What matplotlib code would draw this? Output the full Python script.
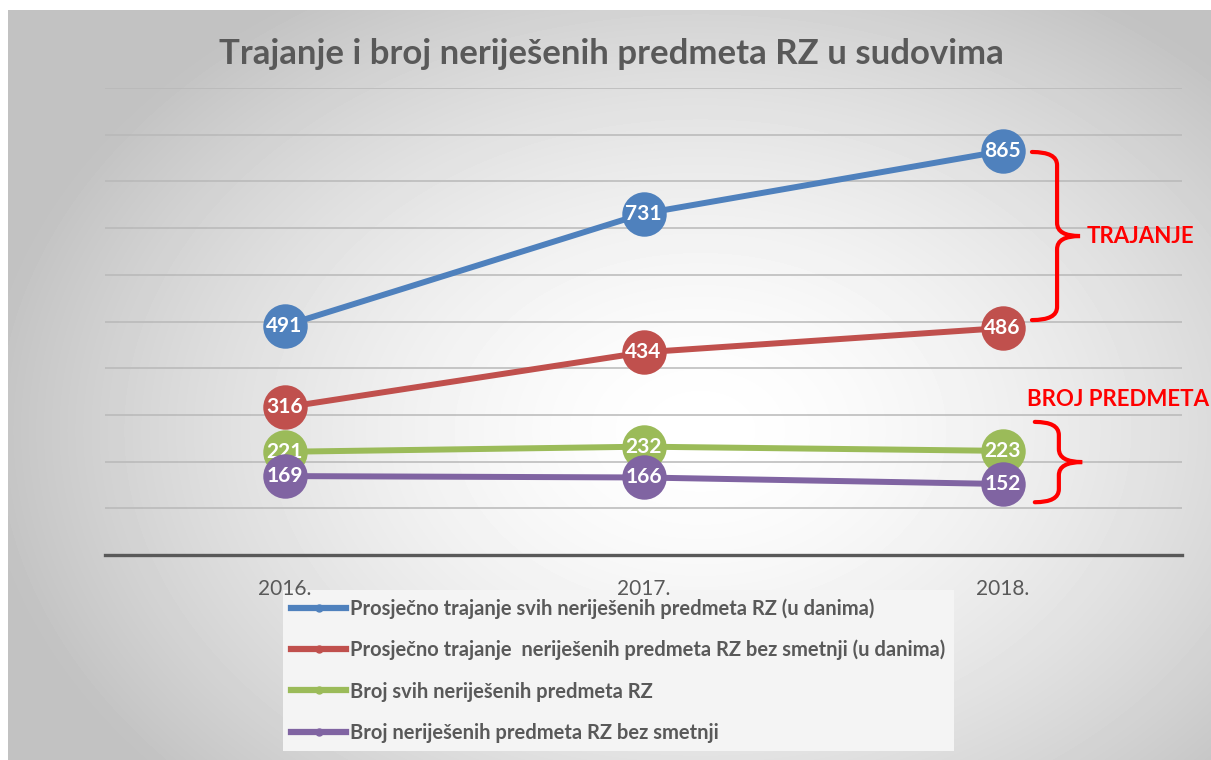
import matplotlib
matplotlib.use("Agg")
import matplotlib.pyplot as plt
import numpy as np
from matplotlib.lines import Line2D
from matplotlib.path import Path
from matplotlib.patches import PathPatch

plt.rcParams["font.family"] = ["Lato", "DejaVu Sans"]

# Data
years = ["2016.", "2017.", "2018."]
avg_all = [491, 731, 865]
avg_clean = [316, 434, 486]
count_all = [221, 232, 223]
count_clean = [169, 166, 152]

series_labels = [
    "Prosječno trajanje svih neriješenih predmeta RZ (u danima)",
    "Prosječno trajanje  neriješenih predmeta RZ bez smetnji (u danima)",
    "Broj svih neriješenih predmeta RZ",
    "Broj neriješenih predmeta RZ bez smetnji",
]
series_values = [avg_all, avg_clean, count_all, count_clean]
colors = ["#4F81BD", "#C0504D", "#9BBB59", "#8064A2"]

TEXT_GRAY = "#595959"
W, H = 1211, 760

fig = plt.figure(figsize=(W / 100, H / 100), dpi=100)

# background: white margin + radial grey gradient
bg = fig.add_axes([0, 0, 1, 1], zorder=-10)
bg.set_xlim(0, W)
bg.set_ylim(H, 0)
bg.axis("off")
yy, xx = np.mgrid[0:H - 10, 0:W - 8]
xx = xx + 8
yy = yy + 10
d = np.sqrt(((xx - 700) / 720.0) ** 2 + ((yy - 430) / 520.0) ** 2)
shade = 1.0 - 0.24 * np.clip(d, 0, 1.15) ** 1.6
shade = np.clip(shade, 0.76, 1.0)
bg.imshow(shade, cmap="gray", vmin=0, vmax=1, extent=(8, W, H, 10),
          interpolation="bilinear", aspect="auto")

# main axes
ax = fig.add_axes([105 / W, 1 - 555 / H, 1077 / W, 467 / H])
ax.set_facecolor("none")
x = np.arange(len(years))
ax.set_xlim(-0.5, 2.5)
ax.set_ylim(0, 1000)
ax.set_yticks(np.arange(100, 1001, 100))
ax.yaxis.grid(True, color="#b8b8b8", lw=1.1)
ax.set_axisbelow(True)
ax.tick_params(axis="y", length=0, labelleft=False)
ax.set_xticks(x)
ax.set_xticklabels(years, fontsize=15, color=TEXT_GRAY)
ax.tick_params(axis="x", length=0, pad=17)
for side in ["top", "left", "right"]:
    ax.spines[side].set_visible(False)
ax.spines["bottom"].set_color("#595959")
ax.spines["bottom"].set_linewidth(2.4)

for i, (vals, c) in enumerate(zip(series_values, colors)):
    ax.plot(x, vals, color=c, lw=4.3, marker="o", markersize=32,
            markeredgewidth=0, zorder=3 + i)
    for xi, v in zip(x, vals):
        ax.text(xi, v, str(v), ha="center", va="center", color="white",
                fontsize=15, fontweight="bold", zorder=3 + i)

# title
fig.text(0.505, 1 - 64 / H, "Trajanje i broj neriješenih predmeta RZ u sudovima",
         ha="center", va="baseline", fontsize=25, fontweight="bold", color=TEXT_GRAY)

# legend (drawn under the main axes so the year labels stay on top)
handles = [Line2D([], [], color=c, lw=4.5, marker="o", markersize=5) for c in colors]
leg = fig.legend(handles, series_labels, loc="upper left",
                 bbox_to_anchor=(283 / W, 1 - 590 / H), frameon=True,
                 fancybox=False, facecolor="#f4f4f4", edgecolor="none",
                 framealpha=1.0, handlelength=2.75, handletextpad=0.2,
                 labelspacing=1.05, borderpad=0.4, borderaxespad=0,
                 prop={"weight": "bold", "size": 14.5})
leg.set_zorder(-1)
for t in leg.get_texts():
    t.set_color(TEXT_GRAY)


# red braces (annotation)
def brace(x0, x1, xt, top, bottom, ry):
    mid = (top + bottom) / 2
    verts = [(x0, top), (x1, top), (x1, top - ry),
             (x1, mid + ry), (x1, mid), (xt, mid),
             (x1, mid), (x1, mid - ry),
             (x1, bottom + ry), (x1, bottom), (x0, bottom)]
    codes = [Path.MOVETO, Path.CURVE3, Path.CURVE3,
             Path.LINETO, Path.CURVE3, Path.CURVE3,
             Path.CURVE3, Path.CURVE3,
             Path.LINETO, Path.CURVE3, Path.CURVE3]
    p = PathPatch(Path(verts, codes), fill=False, edgecolor="#FF0000",
                  lw=3.0, clip_on=False, zorder=10, capstyle="round")
    ax.add_patch(p)


brace(2.082, 2.152, 2.216, 863, 503, 28)
brace(2.090, 2.157, 2.222, 285, 113, 28)
ax.text(2.235, 681, "TRAJANJE", color="#FF0000", fontsize=16, fontweight="bold",
        ha="left", va="center", clip_on=False)
ax.text(2.068, 332, "BROJ PREDMETA", color="#FF0000", fontsize=16, fontweight="bold",
        ha="left", va="center", clip_on=False)

fig.savefig("out.png", dpi=100)
